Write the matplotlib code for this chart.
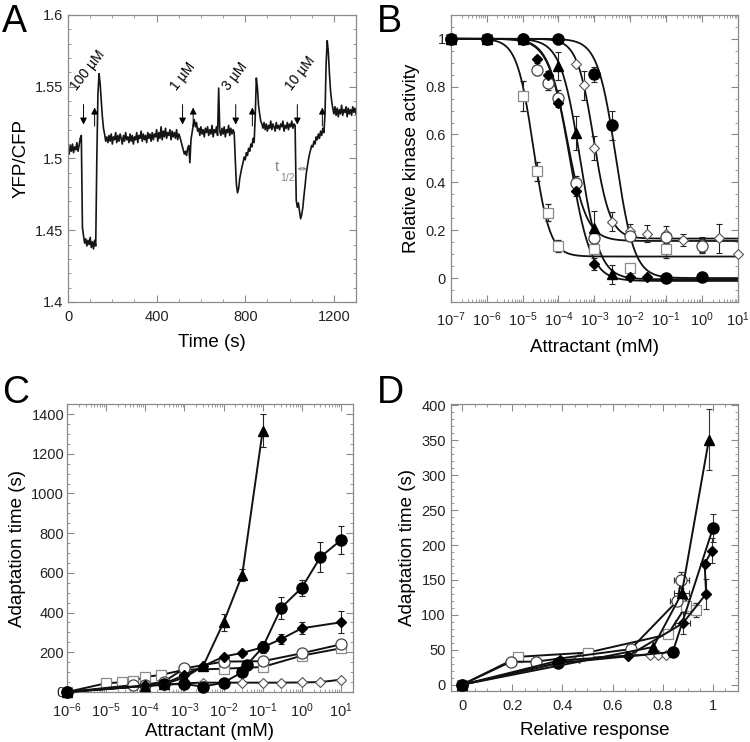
import numpy as np
import matplotlib
matplotlib.use('Agg')
from matplotlib import pyplot as plt
from matplotlib import ticker

plt.rcParams['font.family'] = ['Liberation Sans', 'DejaVu Sans']
plt.rcParams['mathtext.default'] = 'regular'

# ---------------- panel A : FRET trace (one sample every 5 s) ----------------
trace_A = [
    1.507, 1.503, 1.509, 1.505, 1.510, 1.504, 1.508, 1.506, 1.511, 1.505, 1.509, 1.514,
    1.516, 1.452,
    1.446, 1.441, 1.444, 1.439, 1.443, 1.440, 1.445, 1.438, 1.442, 1.437, 1.443, 1.439,
    1.500, 1.545, 1.559, 1.552, 1.541, 1.529, 1.521, 1.517, 1.512, 1.515,
    1.511, 1.516, 1.512, 1.517, 1.510, 1.515, 1.513, 1.518, 1.511, 1.516,
    1.512, 1.517, 1.514, 1.510, 1.516, 1.512, 1.518, 1.513, 1.515, 1.511,
    1.517, 1.512, 1.516, 1.510, 1.515, 1.513, 1.518, 1.511, 1.516, 1.514,
    1.519, 1.512, 1.517, 1.513, 1.516, 1.511, 1.518, 1.514, 1.517, 1.512,
    1.518, 1.513, 1.517, 1.515, 1.520, 1.512, 1.518, 1.514, 1.522, 1.513,
    1.519, 1.515, 1.521, 1.514, 1.518, 1.516, 1.520, 1.513, 1.519, 1.515,
    1.518, 1.514, 1.520, 1.513, 1.517, 1.515, 1.512,
    1.509, 1.506, 1.503, 1.505, 1.502, 1.507, 1.509, 1.497, 1.513, 1.518,
    1.523, 1.527, 1.522, 1.525, 1.519,
    1.521, 1.516, 1.522, 1.517, 1.520, 1.515, 1.521, 1.518, 1.522, 1.516,
    1.520, 1.517, 1.523, 1.515, 1.520, 1.518, 1.522, 1.516,
    1.549,
    1.519, 1.516, 1.521, 1.517, 1.522, 1.515, 1.520, 1.518, 1.523, 1.516,
    1.521, 1.517, 1.520, 1.518,
    1.499, 1.482, 1.476, 1.479, 1.486, 1.490, 1.494, 1.497, 1.501, 1.499,
    1.504, 1.502, 1.507, 1.505, 1.510, 1.508, 1.514, 1.511, 1.529, 1.556,
    1.549, 1.537, 1.531, 1.526, 1.524,
    1.521, 1.525, 1.520, 1.524, 1.519, 1.523, 1.521, 1.526, 1.520, 1.524,
    1.522, 1.519, 1.525, 1.521, 1.523, 1.520, 1.524, 1.522, 1.526, 1.519,
    1.523, 1.521, 1.525, 1.520, 1.524, 1.522, 1.526, 1.521, 1.524, 1.523,
    1.471, 1.466, 1.469, 1.463, 1.458, 1.461, 1.466, 1.474, 1.481, 1.489,
    1.494, 1.499, 1.503, 1.506, 1.509, 1.508, 1.512, 1.510, 1.515, 1.513,
    1.517, 1.514, 1.519, 1.516, 1.521, 1.518, 1.531, 1.566, 1.582, 1.574,
    1.559, 1.547, 1.540, 1.535,
    1.531, 1.536, 1.530, 1.535, 1.529, 1.534, 1.531, 1.537, 1.530, 1.534,
    1.532, 1.536, 1.529, 1.535, 1.531, 1.534, 1.530, 1.536, 1.532, 1.535, 1.531,
]
time_A = np.arange(len(trace_A)) * 5
arrows_down = [70, 517, 757, 1035]
arrows_up = [120, 565, 832, 1148]
dose_labels = ['100 µM', '1 µM', '3 µM', '10 µM']
dose_label_t = [50, 503, 736, 1020]

# ---------------- panel B : dose response ----------------
sq_x = [1e-7, 1e-6, 1e-5, 2.5e-5, 5e-5, 1e-4, 1e-3, 1e-2, 1e-1]
sq_y = [1.0, 1.0, 0.76, 0.447, 0.273, 0.134, 0.12, 0.04, 0.123]
sq_e = [0, 0, 0.063, 0.04, 0.035, 0.025, 0.0, 0.0, 0.04]

fd_x = [1e-7, 1e-6, 1e-5, 2.5e-5, 5e-5, 1e-4, 3e-4, 1e-3, 1e-2, 3e-2]
fd_y = [1.0, 1.0, 1.0, 0.914, 0.85, 0.733, 0.364, 0.06, 0.005, 0.005]
fd_e = [0, 0, 0, 0.015, 0.015, 0.02, 0.02, 0.025, 0, 0]

tri_x = [1e-7, 1e-6, 1e-5, 1e-4, 3e-4, 1e-3, 3e-3]
tri_y = [1.0, 1.0, 1.0, 0.886, 0.607, 0.21, 0.015]
tri_e = [0, 0, 0, 0.06, 0.07, 0.07, 0.04]

oc_x = [1e-7, 1e-6, 1e-5, 2.5e-5, 5e-5, 1e-4, 3e-4, 1e-3, 1e-2, 1e-1, 1]
oc_y = [1.0, 1.0, 1.0, 0.869, 0.816, 0.754, 0.398, 0.169, 0.176, 0.17, 0.134]
oc_e = [0, 0, 0, 0.02, 0.03, 0.03, 0.03, 0.03, 0.02, 0.02, 0.03]

od_x = [1e-7, 1e-6, 1e-5, 1e-4, 3e-4, 5e-4, 1e-3, 3e-3, 1e-2, 3e-2, 1e-1, 3e-1, 1, 3, 10]
od_y = [1.0, 1.0, 1.0, 1.0, 0.896, 0.805, 0.545, 0.235, 0.196, 0.185, 0.183, 0.159, 0.141, 0.166, 0.102]
od_e = [0, 0, 0, 0, 0, 0.06, 0.05, 0.04, 0.03, 0.035, 0.035, 0.025, 0.03, 0.06, 0]

fc_x = [1e-7, 1e-6, 1e-5, 1e-4, 1e-3, 3e-3, 1e-1, 1]
fc_y = [1.0, 1.0, 1.0, 1.0, 0.851, 0.638, 0.0, 0.006]
fc_e = [0, 0, 0, 0, 0.03, 0.06, 0, 0]

# fitted Hill curves: ic50, hill coefficient, bottom plateau
fit_ic50 = [2.0e-5, 2.1e-4, 4.0e-4, 1.75e-4, 9.5e-4, 4.0e-3]
fit_hill = [1.9, 1.5, 1.6, 1.6, 1.9, 1.7]
fit_bottom = [0.09, -0.012, -0.005, 0.155, 0.165, 0.0]

# ---------------- panel C : adaptation time vs dose ----------------
cC_sq_x = [1e-6, 1e-5, 2.5e-5, 5e-5, 1e-4, 2.5e-4, 1e-3, 1e-2, 1e-1, 1, 10]
cC_sq_y = [0, 44, 49, 57, 76, 86, 112, 117, 126, 183, 220]

cC_oc_x = [1e-6, 5e-5, 1e-4, 3e-4, 1e-3, 1e-2, 1e-1, 1, 10]
cC_oc_y = [0, 35, 37, 52, 119, 153, 155, 195, 240]

cC_od_x = [1e-6, 1e-3, 3e-3, 1e-2, 3e-2, 1e-1, 3e-1, 1, 3, 10]
cC_od_y = [0, 44, 47, 47, 47, 47, 47, 48, 50, 62]

cC_fc_x = [1e-6, 3e-4, 1e-3, 3e-3, 1e-2, 3e-2, 4e-2, 1e-1, 3e-1, 1, 3, 10]
cC_fc_y = [0, 38, 40, 27, 47, 100, 138, 225, 425, 525, 680, 765]
cC_fc_e = [0, 0, 0, 0, 0, 0, 0, 30, 55, 40, 75, 72]

cC_fd_x = [1e-6, 1e-4, 3e-4, 1e-3, 3e-3, 1e-2, 3e-2, 1e-1, 3e-1, 1, 10]
cC_fd_y = [0, 33, 42, 85, 130, 178, 197, 225, 267, 321, 351]
cC_fd_e = [0, 0, 0, 0, 0, 0, 0, 0, 25, 30, 55]

cC_tri_x = [1e-6, 1e-4, 3e-4, 1e-3, 3e-3, 1e-2, 3e-2, 1e-1]
cC_tri_y = [0, 30, 40, 72, 130, 350, 590, 1316]
cC_tri_e = [0, 0, 0, 0, 0, 45, 30, 83]

# ---------------- panel D : adaptation time vs relative response ----------------
dD_oc_x = [0, 0.195, 0.294, 0.672, 0.858, 0.874]
dD_oc_y = [0, 33, 33, 51, 120, 150]
dD_oc_xe = [0, 0.02, 0, 0, 0.03, 0.03]
dD_oc_ye = [0, 0, 0, 0, 0, 12]

dD_sq_x = [0, 0.225, 0.501, 0.820, 0.894, 0.934]
dD_sq_y = [0, 40, 46, 72, 113, 107]
dD_sq_ye = [0, 0, 0, 0, 10, 10]

dD_fc_x = [0, 0.384, 0.84, 1.0]
dD_fc_y = [0, 31, 47, 224]
dD_fc_ye = [0, 0, 0, 20]

dD_tri_x = [0, 0.762, 0.876, 0.984]
dD_tri_y = [0, 54, 131, 351]
dD_tri_xe = [0, 0, 0.03, 0]
dD_tri_ye = [0, 0, 0, 44]

dD_fd_x = [0, 0.39, 0.661, 0.880, 0.973, 0.967, 0.996]
dD_fd_y = [0, 35, 41, 88, 130, 173, 192]
dD_fd_xe = [0, 0, 0, 0.03, 0, 0, 0]
dD_fd_ye = [0, 0, 0, 16, 22, 0, 18]

dD_od_x = [0, 0.468, 0.751, 0.783, 0.814]
dD_od_y = [0, 38, 43, 43, 43]

GRAY = '#8a8a8a'
STY = {
    'sq': dict(marker='s', mfc='white', mec=GRAY, ms=7, mew=0.9),
    'oc': dict(marker='o', mfc='white', mec='#444444', ms=8, mew=0.9),
    'od': dict(marker='D', mfc='white', mec='#555555', ms=5.5, mew=0.8),
    'fd': dict(marker='D', mfc='black', mec='black', ms=5),
    'tri': dict(marker='^', mfc='black', mec='black', ms=7),
    'fc': dict(marker='o', mfc='black', mec='black', ms=8),
}
TICK_FS = 10.5
LABEL_FS = 13.5


def style_axes(ax, xpad=6, labelpad=7):
    for s in ax.spines.values():
        s.set_color(GRAY)
        s.set_linewidth(0.9)
    ax.tick_params(which='both', direction='in', top=True, right=True,
                   color=GRAY, labelsize=TICK_FS, labelcolor='#222222')
    ax.tick_params(which='major', length=5)
    ax.tick_params(which='minor', length=2.5)
    ax.tick_params(axis='x', which='major', pad=xpad)
    ax.xaxis.labelpad = labelpad


fig = plt.figure(figsize=(7.5, 7.42), dpi=100)
axA = fig.add_axes([0.0907, 0.593, 0.384, 0.387])
axB = fig.add_axes([0.601, 0.593, 0.383, 0.387])
axC = fig.add_axes([0.0893, 0.0674, 0.381, 0.388])
axD = fig.add_axes([0.601, 0.0687, 0.383, 0.387])

# ---- A ----
axA.plot(time_A, trace_A, color='#151515', lw=1.2)
for t in arrows_down:
    axA.annotate('', xy=(t, 1.5235), xytext=(t, 1.5375),
                 arrowprops=dict(arrowstyle='-|>', color='black', lw=0.7,
                                 mutation_scale=10, shrinkA=0, shrinkB=0))
for t in arrows_up:
    axA.annotate('', xy=(t, 1.5355), xytext=(t, 1.5225),
                 arrowprops=dict(arrowstyle='-|>', color='black', lw=0.7,
                                 mutation_scale=10, shrinkA=0, shrinkB=0))
for lab, t in zip(dose_labels, dose_label_t):
    axA.text(t, 1.5455, lab, rotation=52, rotation_mode='anchor',
             ha='left', va='bottom', fontsize=10)
axA.text(941, 1.494, 't', color=GRAY, fontsize=11, ha='center', va='center')
axA.text(990, 1.4865, '1/2', color=GRAY, fontsize=7.5, ha='center', va='center')
axA.annotate('', xy=(1036, 1.4928), xytext=(1078, 1.4928),
             arrowprops=dict(arrowstyle='<->', color=GRAY, lw=0.7,
                             mutation_scale=5, shrinkA=0, shrinkB=0))
axA.set_xlim(0, 1300)
axA.set_ylim(1.4, 1.6)
axA.xaxis.set_major_locator(ticker.MultipleLocator(400))
axA.xaxis.set_minor_locator(ticker.MultipleLocator(100))
axA.yaxis.set_major_locator(ticker.MultipleLocator(0.05))
axA.yaxis.set_minor_locator(ticker.MultipleLocator(0.01))
axA.yaxis.set_major_formatter(ticker.FormatStrFormatter('%g'))
axA.set_xlabel('Time (s)', fontsize=LABEL_FS)
axA.set_ylabel('YFP/CFP', fontsize=LABEL_FS)
style_axes(axA)

# ---- B ----
xfit = np.logspace(-7, 1, 400)
for ic, n, b in zip(fit_ic50, fit_hill, fit_bottom):
    axB.plot(xfit, b + (1 - b) / (1 + (xfit / ic) ** n), color='#111111', lw=1.3)
B_series = [('sq', sq_x, sq_y, sq_e), ('od', od_x, od_y, od_e), ('oc', oc_x, oc_y, oc_e),
            ('tri', tri_x, tri_y, tri_e), ('fd', fd_x, fd_y, fd_e), ('fc', fc_x, fc_y, fc_e)]
for key, x, y, e in B_series:
    axB.errorbar(x, y, yerr=e, ls='none', ecolor='#222222', elinewidth=0.8,
                 capsize=2, capthick=0.8, clip_on=False, zorder=3, **STY[key])
axB.set_xscale('log')
axB.set_xlim(1e-7, 1e1)
axB.set_ylim(-0.1, 1.1)
axB.xaxis.set_major_locator(ticker.LogLocator(base=10, numticks=20))
axB.xaxis.set_minor_locator(ticker.LogLocator(base=10, subs=np.arange(2, 10), numticks=20))
axB.xaxis.set_minor_formatter(ticker.NullFormatter())
axB.yaxis.set_major_locator(ticker.MultipleLocator(0.2))
axB.yaxis.set_minor_locator(ticker.MultipleLocator(0.05))
axB.yaxis.set_major_formatter(ticker.FormatStrFormatter('%g'))
axB.set_xlabel('Attractant (mM)', fontsize=LABEL_FS)
axB.set_ylabel('Relative kinase activity', fontsize=LABEL_FS)
style_axes(axB)

# ---- C ----
C_series = [('od', cC_od_x, cC_od_y, None), ('sq', cC_sq_x, cC_sq_y, None),
            ('oc', cC_oc_x, cC_oc_y, None), ('fd', cC_fd_x, cC_fd_y, cC_fd_e),
            ('fc', cC_fc_x, cC_fc_y, cC_fc_e), ('tri', cC_tri_x, cC_tri_y, cC_tri_e)]
for key, x, y, e in C_series:
    axC.errorbar(x, y, yerr=e, color='#111111', lw=1.4, ecolor='#222222',
                 elinewidth=0.8, capsize=2, capthick=0.8, clip_on=False, zorder=3,
                 **STY[key])
axC.set_xscale('log')
axC.set_xlim(1e-6, 2e1)
axC.set_ylim(0, 1450)
axC.xaxis.set_major_locator(ticker.LogLocator(base=10, numticks=20))
axC.xaxis.set_minor_locator(ticker.LogLocator(base=10, subs=np.arange(2, 10), numticks=20))
axC.xaxis.set_minor_formatter(ticker.NullFormatter())
axC.yaxis.set_major_locator(ticker.MultipleLocator(200))
axC.yaxis.set_minor_locator(ticker.MultipleLocator(50))
axC.set_xlabel('Attractant (mM)', fontsize=LABEL_FS)
axC.set_ylabel('Adaptation time (s)', fontsize=LABEL_FS)
style_axes(axC, xpad=7, labelpad=2)
axC.tick_params(axis='y', which='major', pad=2)

# ---- D ----
D_series = [('od', dD_od_x, dD_od_y, None, None),
            ('sq', dD_sq_x, dD_sq_y, None, dD_sq_ye),
            ('oc', dD_oc_x, dD_oc_y, dD_oc_xe, dD_oc_ye),
            ('fd', dD_fd_x, dD_fd_y, dD_fd_xe, dD_fd_ye),
            ('fc', dD_fc_x, dD_fc_y, None, dD_fc_ye),
            ('tri', dD_tri_x, dD_tri_y, dD_tri_xe, dD_tri_ye)]
for key, x, y, xe, ye in D_series:
    axD.errorbar(x, y, xerr=xe, yerr=ye, color='#111111', lw=1.4, ecolor='#333333',
                 elinewidth=0.8, capsize=2, capthick=0.8, clip_on=False, zorder=3,
                 **STY[key])
axD.set_xlim(-0.045, 1.1)
axD.set_ylim(-9, 402)
axD.xaxis.set_major_locator(ticker.MultipleLocator(0.2))
axD.xaxis.set_minor_locator(ticker.MultipleLocator(0.05))
axD.xaxis.set_major_formatter(ticker.FormatStrFormatter('%g'))
axD.yaxis.set_major_locator(ticker.MultipleLocator(50))
axD.yaxis.set_minor_locator(ticker.MultipleLocator(10))
axD.set_xlabel('Relative response', fontsize=LABEL_FS)
axD.set_ylabel('Adaptation time (s)', fontsize=LABEL_FS)
style_axes(axD, xpad=6, labelpad=6)

for lab, x, y in [('A', 0.003, 0.995), ('B', 0.503, 0.995), ('C', 0.003, 0.494), ('D', 0.503, 0.494)]:
    fig.text(x, y, lab, fontsize=27, va='top', ha='left')

fig.savefig('out.png', dpi=100)
